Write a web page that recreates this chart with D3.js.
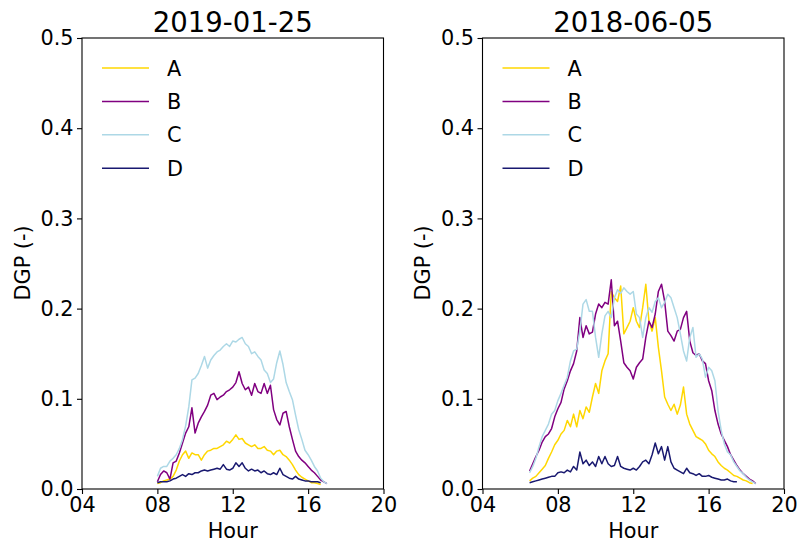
<!DOCTYPE html>
<html>
<head>
<meta charset="utf-8">
<script src="https://cdn.jsdelivr.net/npm/d3@7"></script>
<style>
  body { margin: 0; background: #fff; }
  text { font-family: "DejaVu Sans", sans-serif; fill: #000; }
</style>
</head>
<body>
<svg id="chart" width="801" height="544"></svg>
<script>
// series names and colours
const seriesNames = ["A", "B", "C", "D"];
const seriesColors = ["#ffd700", "#800080", "#add8e6", "#191970"];

const xTicks = [4, 8, 12, 16, 20];
const yTicks = [0, 0.1, 0.2, 0.3, 0.4, 0.5];

// 2019-01-25, samples every 10 min from 08:00
const leftStart = 8;
const leftA = [0.006,0.007,0.009,0.010,0.011,0.014,0.021,0.031,0.038,0.042,
  0.034,0.040,0.038,0.038,0.032,0.038,0.042,0.043,0.045,0.045,
  0.047,0.049,0.053,0.051,0.055,0.060,0.055,0.056,0.051,0.049,
  0.047,0.049,0.045,0.045,0.047,0.043,0.042,0.038,0.042,0.043,
  0.038,0.036,0.032,0.027,0.021,0.016,0.013,0.011,0.009,0.007,
  0.007,0.006,0.005,null,null];
const leftB = [0.008,0.016,0.020,0.018,0.011,0.029,0.031,0.040,0.051,0.062,
  0.069,0.090,0.062,0.073,0.080,0.086,0.093,0.104,0.106,0.099,
  0.102,0.104,0.108,0.110,0.113,0.118,0.130,0.117,0.110,0.113,
  0.104,0.117,0.108,0.106,0.117,0.106,0.115,0.088,0.077,0.071,
  0.084,0.086,0.069,0.055,0.042,0.036,0.032,0.029,0.025,0.021,
  0.018,0.014,0.010,0.008,0.006];
const leftC = [0.014,0.023,0.025,0.025,0.031,0.034,0.038,0.045,0.055,0.070,
  0.091,0.121,0.123,0.128,0.137,0.147,0.134,0.143,0.148,0.152,
  0.154,0.158,0.161,0.158,0.164,0.163,0.166,0.168,0.161,0.158,
  0.150,0.152,0.147,0.143,0.132,0.128,0.118,0.122,0.140,0.153,
  0.138,0.118,0.108,0.099,0.082,0.066,0.055,0.043,0.038,0.032,
  0.025,0.020,0.012,0.008,0.006];
const leftD = [0.007,0.008,0.008,0.008,0.009,0.011,0.012,0.014,0.016,0.014,
  0.017,0.016,0.018,0.018,0.020,0.021,0.020,0.021,0.022,0.023,
  0.022,0.027,0.022,0.021,0.023,0.029,0.025,0.029,0.023,0.020,
  0.022,0.020,0.021,0.018,0.020,0.017,0.016,0.018,0.016,0.023,
  0.016,0.014,0.012,0.011,0.014,0.011,0.010,0.009,0.009,0.008,
  0.008,0.008,0.007,null,null];

// 2018-06-05, samples every 10 min from 06:30
const rightStart = 6.5;
const rightA = [0.009,0.012,0.014,0.018,0.022,0.026,0.034,0.041,0.049,0.054,
  0.061,0.065,0.076,0.069,0.083,0.069,0.087,0.078,0.091,0.085,
  0.102,0.117,0.106,0.131,0.142,0.150,0.219,0.212,0.208,0.225,
  0.172,0.179,0.186,0.201,0.186,0.179,0.201,0.227,0.186,0.175,
  0.190,0.157,0.131,0.102,0.094,0.087,0.094,0.083,0.093,0.113,
  0.083,0.072,0.065,0.058,0.056,0.054,0.050,0.043,0.039,0.036,
  0.030,0.026,0.023,0.021,0.018,0.015,0.014,0.012,0.010,0.009,
  0.007,0.006,null];
const rightB = [0.020,0.028,0.036,0.043,0.052,0.058,0.061,0.067,0.080,0.089,
  0.096,0.111,0.120,0.131,0.139,0.153,0.190,0.168,0.181,0.172,
  0.174,0.194,0.205,0.201,0.207,0.205,0.232,0.181,0.186,0.164,
  0.140,0.135,0.131,0.122,0.135,0.140,0.144,0.168,0.186,0.179,
  0.194,0.219,0.227,0.208,0.175,0.170,0.164,0.175,0.177,0.190,
  0.197,0.164,0.151,0.148,0.150,0.142,0.139,0.120,0.109,0.087,
  0.072,0.061,0.054,0.047,0.038,0.032,0.026,0.021,0.017,0.014,
  0.011,0.009,0.006];
const rightC = [0.018,0.025,0.034,0.047,0.058,0.065,0.072,0.083,0.087,0.098,
  0.106,0.115,0.124,0.142,0.153,0.155,0.175,0.205,0.210,0.197,
  0.197,0.168,0.146,0.172,0.192,0.197,0.190,0.212,0.221,0.217,
  0.223,0.219,0.216,0.219,0.194,0.190,0.168,0.190,0.201,0.196,
  0.208,0.212,0.201,0.207,0.216,0.212,0.201,0.190,0.172,0.153,
  0.142,0.168,0.179,0.146,0.150,0.144,0.124,0.135,0.131,0.120,
  0.087,0.065,0.050,0.041,0.038,0.030,0.025,0.020,0.017,0.013,
  0.010,0.008,0.006];
const rightD = [0.007,0.008,0.009,0.010,0.011,0.012,0.013,0.014,0.014,0.018,
  0.019,0.018,0.021,0.019,0.025,0.021,0.041,0.028,0.032,0.026,
  0.030,0.025,0.036,0.028,0.036,0.028,0.025,0.026,0.036,0.025,
  0.023,0.022,0.021,0.023,0.021,0.025,0.030,0.032,0.028,0.038,
  0.051,0.039,0.047,0.032,0.047,0.030,0.023,0.021,0.019,0.017,
  0.023,0.018,0.017,0.015,0.017,0.014,0.014,0.015,0.013,0.012,
  0.011,0.010,0.010,0.011,0.009,0.008,0.008,null,null,null,
  null,null,null];

const svg = d3.select("#chart");
const fontSize = 20.8;

function drawPanel(left, title, start, series) {
  const top = 38, bottom = 489, w = 301.5;
  const x = d3.scaleLinear().domain([4, 20]).range([left, left + w]);
  const y = d3.scaleLinear().domain([0, 0.5]).range([bottom, top]);
  const g = svg.append("g");

  // lines
  const line = d3.line()
    .defined(d => d.v != null)
    .x(d => x(d.t))
    .y(d => y(d.v));
  series.forEach((vals, i) => {
    const pts = vals.map((v, k) => ({ t: start + k / 6, v }));
    g.append("path")
      .datum(pts)
      .attr("fill", "none")
      .attr("stroke", seriesColors[i])
      .attr("stroke-width", 1.5)
      .attr("stroke-linejoin", "round")
      .attr("d", line);
  });

  // frame
  g.append("rect")
    .attr("x", left).attr("y", top)
    .attr("width", w).attr("height", bottom - top)
    .attr("fill", "none").attr("stroke", "#000").attr("stroke-width", 1.1);

  // axes
  const xa = g.append("g").attr("transform", `translate(0,${bottom})`)
    .call(d3.axisBottom(x).tickValues(xTicks)
      .tickFormat(d => String(d).padStart(2, "0"))
      .tickSize(5).tickPadding(3.5));
  const ya = g.append("g").attr("transform", `translate(${left},0)`)
    .call(d3.axisLeft(y).tickValues(yTicks)
      .tickFormat(d3.format(".1f")).tickSize(5).tickPadding(3.5));
  [xa, ya].forEach(a => {
    a.select(".domain").remove();
    a.selectAll("line").attr("stroke", "#000").attr("stroke-width", 1.1);
    a.selectAll("text").style("font-size", fontSize + "px")
      .attr("font-family", "DejaVu Sans");
  });

  // title and labels
  g.append("text")
    .attr("x", left + w / 2).attr("y", 32)
    .attr("text-anchor", "middle")
    .style("font-size", "27.5px")
    .text(title);
  g.append("text")
    .attr("x", left + w / 2).attr("y", 538)
    .attr("text-anchor", "middle")
    .style("font-size", fontSize + "px")
    .text("Hour");
  g.append("text")
    .attr("transform", `translate(${left - 52.5},263) rotate(-90)`)
    .attr("text-anchor", "middle")
    .style("font-size", fontSize + "px")
    .text("DGP (-)");

  // legend
  const lg = g.append("g").selectAll("g")
    .data(seriesNames)
    .join("g")
    .attr("transform", (d, i) => `translate(${left + 20},${68 + i * 33.4})`);
  lg.append("line")
    .attr("x1", 0).attr("x2", 47)
    .attr("stroke", (d, i) => seriesColors[i])
    .attr("stroke-width", 1.5);
  lg.append("text")
    .attr("x", 65).attr("dy", "0.36em")
    .style("font-size", fontSize + "px")
    .text(d => d);
}

drawPanel(82, "2019-01-25", leftStart, [leftA, leftB, leftC, leftD]);
drawPanel(482.5, "2018-06-05", rightStart, [rightA, rightB, rightC, rightD]);
</script>
</body>
</html>
